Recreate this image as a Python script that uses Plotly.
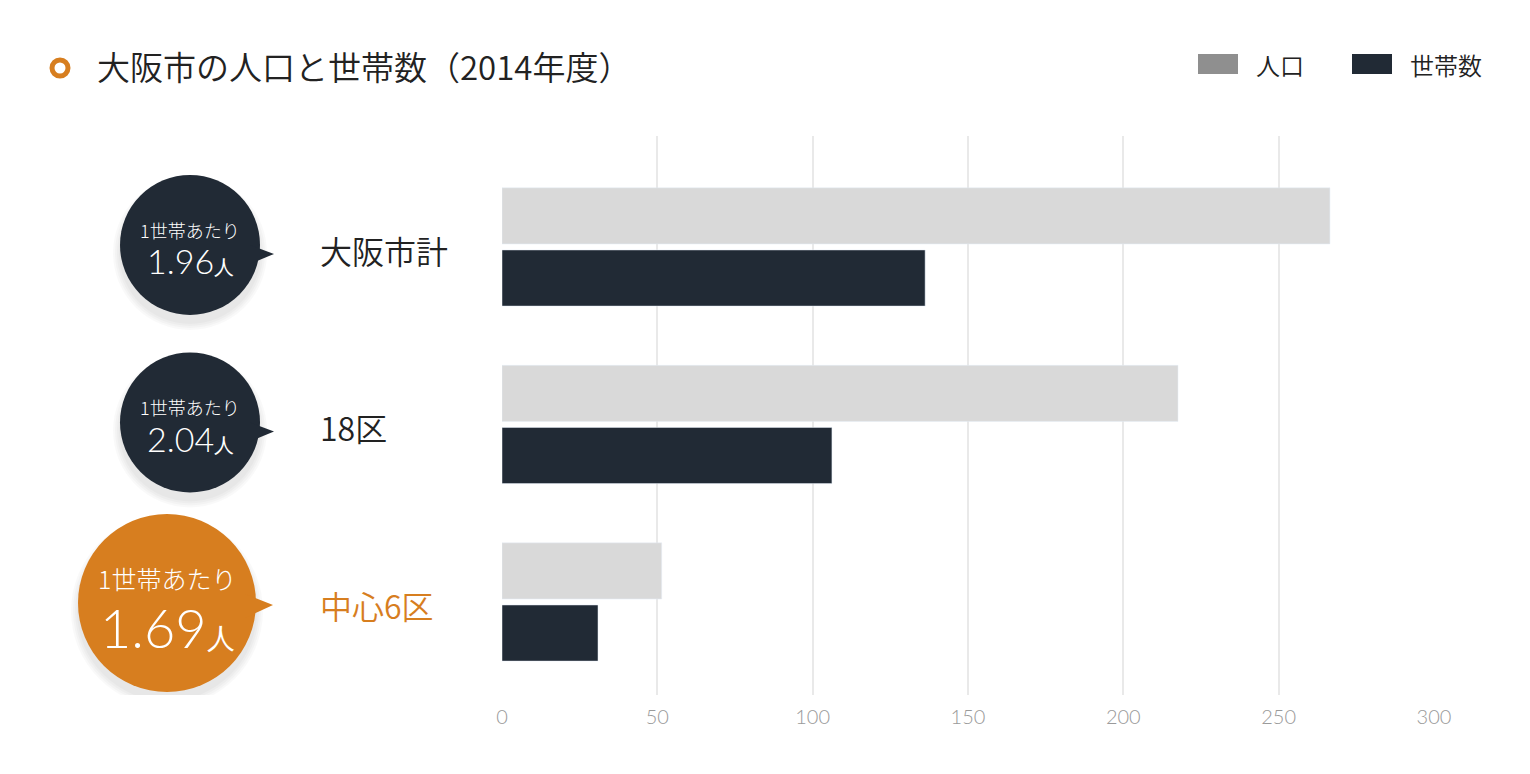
import plotly.graph_objects as go

# data (万人 / 万世帯)
areas = ["大阪市計", "18区", "中心6区"]
population = [266.5, 217.6, 51.4]
households = [136.2, 106.2, 30.9]
per_household = ["1.96", "2.04", "1.69"]
highlight = "中心6区"

x_ticks = [0, 50, 100, 150, 200, 250, 300]

DARK = "#212a35"
ORANGE = "#d77e1f"
LIGHT = "#d9d9d9"
JP = "Noto Sans CJK JP"
NUM = "Lato"

# plot area in pixels
W, H = 1530, 774
L, R, T, B = 502, 96, 136, 79
pw = W - L - R


def px(x):
    # pixel x -> paper x
    return (x - L) / pw


fig = go.Figure()
fig.add_trace(go.Bar(y=areas, x=population, orientation="h", name="人口",
                     marker_color=LIGHT, hoverinfo="skip"))
fig.add_trace(go.Bar(y=areas, x=households, orientation="h", name="世帯数",
                     marker_color=DARK, hoverinfo="skip"))

shapes = []
annos = []

for i, (area, ratio) in enumerate(zip(areas, per_household)):
    hot = area == highlight
    col = ORANGE if hot else DARK
    cx = 167 if hot else 190
    r = 89 if hot else 70
    dy = -1 if hot else 2

    # soft shadow, mostly below the bubble
    for extra in [7, 5, 3, 1]:
        shapes.append(dict(type="circle", xref="paper", yref="y",
                           xsizemode="pixel", ysizemode="pixel",
                           xanchor=px(cx), yanchor=i,
                           x0=-r - extra, x1=r + extra,
                           y0=dy - 8 - r - extra, y1=dy - 8 + r + extra,
                           fillcolor="rgba(0,0,0,0.022)", line_width=0,
                           layer="below"))
    # bubble
    shapes.append(dict(type="circle", xref="paper", yref="y",
                       xsizemode="pixel", ysizemode="pixel",
                       xanchor=px(cx), yanchor=i,
                       x0=-r, x1=r, y0=dy - r, y1=dy + r,
                       fillcolor=col, line_width=0))
    # pointer
    if hot:
        path = "M 78 8 L 106 -3 L 78 -16 Z"
    else:
        path = "M 60 2 L 84 -7 L 60 -17 Z"
    shapes.append(dict(type="path", xref="paper", yref="y",
                       xsizemode="pixel", ysizemode="pixel",
                       xanchor=px(cx), yanchor=i, path=path,
                       fillcolor=col, line_width=0))

    # bubble text
    s1, s2, s3 = (25, 54, 28) if hot else (18, 34, 20)
    up, down = (24, -26) if hot else (17, -14)
    annos.append(dict(xref="paper", yref="y", x=px(cx), y=i, yshift=up,
                      xanchor="center", yanchor="middle",
                      text="1世帯あたり", showarrow=False,
                      font=dict(family=JP, size=s1, color="white", weight=300)))
    annos.append(dict(xref="paper", yref="y", x=px(cx), y=i, yshift=down,
                      xanchor="center", yanchor="middle",
                      text=f"{ratio}<span style='font-size:{s3}px'>人</span>",
                      showarrow=False,
                      font=dict(family=NUM, size=s2, color="white", weight=300)))

    # category label
    annos.append(dict(xref="paper", yref="y", x=px(318), y=i, yshift=-3,
                      xanchor="left", yanchor="middle", text=area, showarrow=False,
                      font=dict(family=JP, size=32, weight=350,
                                color=ORANGE if hot else "#222222")))

# title marker ring
shapes.append(dict(type="circle", xref="paper", yref="paper",
                   xsizemode="pixel", ysizemode="pixel",
                   xanchor=px(60), yanchor=(H - B - 68) / (H - T - B),
                   x0=-8, x1=8, y0=-8, y1=8,
                   fillcolor="white", line=dict(color=ORANGE, width=5)))

# custom legend
legend_y = (H - B - 64) / (H - T - B)
for name, col, x0 in [("人口", "#8f8f8f", 1198), ("世帯数", DARK, 1352)]:
    shapes.append(dict(type="rect", xref="paper", yref="paper",
                       xsizemode="pixel", ysizemode="pixel",
                       xanchor=px(x0), yanchor=legend_y,
                       x0=0, x1=40, y0=-10, y1=10,
                       fillcolor=col, line_width=0))
    annos.append(dict(xref="paper", yref="paper", x=px(x0 + 56), y=legend_y,
                      xanchor="left", yanchor="middle", text=name, showarrow=False,
                      font=dict(family=JP, size=24, weight=350, color="#222222")))

fig.update_layout(
    width=W, height=H,
    margin=dict(l=L, r=R, t=T, b=B),
    paper_bgcolor="white", plot_bgcolor="white",
    barmode="group", bargap=0.30, bargroupgap=0.097,
    showlegend=False,
    font=dict(family=JP),
    title=dict(text="大阪市の人口と世帯数（2014年度）",
               x=97 / W, xanchor="left", y=1 - 68 / H, yanchor="middle",
               font=dict(family=JP, size=33, weight=350, color="#222222")),
    xaxis=dict(range=[0, 300], tickvals=x_ticks, showgrid=True,
               gridcolor="#e9e9e9", gridwidth=2, zeroline=False,
               showline=False, ticks="", ticklabelstandoff=8,
               tickfont=dict(family=NUM, size=20, color="#9a9a9a", weight=300)),
    yaxis=dict(type="category", categoryorder="array", categoryarray=areas,
               range=[2.524, -0.625], showticklabels=False, showgrid=False,
               zeroline=False, showline=False),
    shapes=shapes,
    annotations=annos,
)

fig.write_html("out.html", config={"displayModeBar": False},
               post_script="document.body.style.margin='0';")
